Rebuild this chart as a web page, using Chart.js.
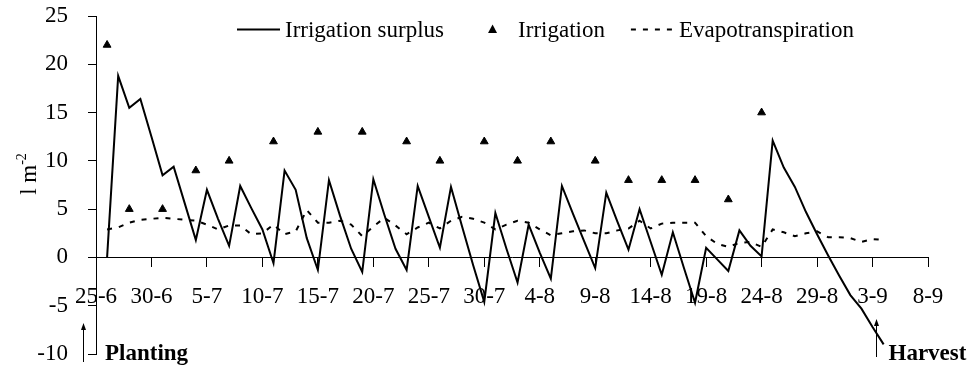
<!DOCTYPE html>
<html>
<head>
<meta charset="utf-8">
<script src="https://cdn.jsdelivr.net/npm/chart.js@4.4.1/dist/chart.umd.min.js"></script>
<style>
  html, body { margin: 0; padding: 0; background: #fff; }
  #wrap { width: 972px; height: 371px; }
</style>
</head>
<body>
<div id="wrap"><canvas id="chart"></canvas></div>
<script>
// tick labels every 5 days, starting 25-6 (day 0)
const tickLabels = ["25-6", "30-6", "5-7", "10-7", "15-7", "20-7", "25-7", "30-7",
  "4-8", "9-8", "14-8", "19-8", "24-8", "29-8", "3-9", "8-9"];

// days after 25-6
const days = [1, 2, 3, 4, 5, 6, 7, 8, 9, 10, 11, 12, 13, 14, 15, 16, 17, 18, 19, 20,
  21, 22, 23, 24, 25, 26, 27, 28, 29, 30, 31, 32, 33, 34, 35, 36, 37, 38, 39, 40,
  41, 42, 43, 44, 45, 46, 47, 48, 49, 50, 51, 52, 53, 54, 55, 56, 57, 58, 59, 60,
  61, 62, 63, 64, 65, 66, 67, 68, 69, 70, 71];

const surplus = [0, 18.8, 15.5, 16.4, 12.5, 8.5, 9.4, 5.6, 1.8, 7.0,
  4.0, 1.2, 7.4, 5.1, 2.9, -0.6, 9.0, 7.0, 2.0, -1.3,
  8.0, 4.3, 0.9, -1.5, 8.1, 4.4, 0.9, -1.3, 7.4, 4.2,
  1.0, 7.3, 3.2, -0.8, -4.6, 4.6, 0.9, -2.6, 3.4, 0.5,
  -2.2, 7.4, 4.5, 1.7, -1.1, 6.7, 3.7, 0.8, 5.0, 1.6,
  -1.8, 2.6, -1.1, -4.7, 1.0, -0.2, -1.4, 2.8, 1.2, 0.1,
  12.1, 9.3, 7.3, 4.7, 2.4, 0.2, -1.9, -3.9, -5.3, -7.2, -9.0];

const evapotranspiration = [2.9, 3.1, 3.6, 3.9, 4.0, 4.1, 4.0, 3.9, 3.8, 3.4,
  2.9, 3.3, 3.3, 2.4, 2.5, 3.4, 2.4, 2.7, 4.9, 3.6,
  3.6, 3.8, 3.4, 2.2, 3.2, 4.1, 3.3, 2.4, 3.1, 3.6,
  3.0, 3.8, 4.2, 4.0, 3.6, 2.9, 3.4, 3.8, 3.6, 2.9,
  2.3, 2.5, 2.7, 2.8, 2.5, 2.5, 2.8, 3.0, 3.8, 3.0,
  3.5, 3.6, 3.6, 3.6, 2.2, 1.4, 1.1, 1.5, 1.6, 1.1,
  2.9, 2.6, 2.2, 2.5, 2.7, 2.1, 2.1, 2.0, 1.6, 1.9, 1.8];

const irrigationDays = [1, 3, 6, 9, 12, 16, 20, 24, 28, 31, 35, 38, 41, 45, 48, 51, 54, 57, 60];
const irrigation = [22, 5, 5, 9, 10, 12, 13, 13, 12, 10, 12, 10, 12, 10, 8, 8, 8, 6, 15];

const FONT = "'Liberation Serif', 'Times New Roman', serif";

// legend drawn inside the plot, Excel style
const legendPlugin = {
  id: "excelLegend",
  afterDraw(chart) {
    const ctx = chart.ctx;
    const midY = 29.5;
    let x = 237;
    ctx.save();
    ctx.font = `23px ${FONT}`;
    ctx.fillStyle = "#000";
    ctx.strokeStyle = "#000";
    ctx.textBaseline = "alphabetic";
    chart.data.datasets.forEach((ds) => {
      if (ds.showLine === false) {
        const cx = x + 22.5;
        ctx.beginPath();
        ctx.moveTo(cx, midY - 5);
        ctx.lineTo(cx + 4.5, midY + 3.5);
        ctx.lineTo(cx - 4.5, midY + 3.5);
        ctx.closePath();
        ctx.fill();
      } else {
        ctx.lineWidth = ds.borderWidth;
        ctx.setLineDash(ds.borderDash || []);
        ctx.beginPath();
        ctx.moveTo(x, midY);
        ctx.lineTo(x + 43, midY);
        ctx.stroke();
        ctx.setLineDash([]);
      }
      ctx.fillText(ds.label, x + 48, 37);
      x += 48 + ctx.measureText(ds.label).width + 26;
    });
    ctx.restore();
  }
};

function arrowUp(ctx, x, top, bottom) {
  ctx.beginPath();
  ctx.moveTo(x, bottom);
  ctx.lineTo(x, top + 5);
  ctx.stroke();
  ctx.beginPath();
  ctx.moveTo(x, top);
  ctx.lineTo(x + 2.5, top + 7);
  ctx.lineTo(x - 2.5, top + 7);
  ctx.closePath();
  ctx.fill();
}

// axis title with superscript, planting / harvest notes
const notesPlugin = {
  id: "notes",
  afterDraw(chart) {
    const ctx = chart.ctx;
    const xs = chart.scales.x;
    ctx.save();
    ctx.fillStyle = "#000";
    ctx.strokeStyle = "#000";
    ctx.lineWidth = 1;

    // y title "l m-2"
    ctx.save();
    ctx.translate(36, 174);
    ctx.rotate(-Math.PI / 2);
    ctx.font = `23px ${FONT}`;
    const main = "l m";
    const mainW = ctx.measureText(main).width;
    ctx.font = `14px ${FONT}`;
    const supW = ctx.measureText("-2").width;
    const start = -(mainW + supW) / 2;
    ctx.font = `23px ${FONT}`;
    ctx.fillText(main, start, 0);
    ctx.font = `14px ${FONT}`;
    ctx.fillText("-2", start + mainW, -10);
    ctx.restore();

    ctx.font = `bold 23px ${FONT}`;
    const left = chart.chartArea.left;
    arrowUp(ctx, left - 12.5, 323, 362);
    ctx.fillText("Planting", left + 9, 360);

    const hx = Math.round(xs.getPixelForValue(70.3)) + 0.5;
    arrowUp(ctx, hx, 319, 357);
    ctx.fillText("Harvest", hx + 12, 360);
    ctx.restore();
  }
};

new Chart(document.getElementById("chart"), {
  type: "line",
  data: {
    datasets: [{
      label: "Irrigation surplus",
      data: days.map((d, i) => ({ x: d, y: surplus[i] })),
      borderColor: "#000",
      borderWidth: 2,
      pointRadius: 0,
      tension: 0
    }, {
      label: "Irrigation",
      data: irrigationDays.map((d, i) => ({ x: d, y: irrigation[i] })),
      showLine: false,
      pointStyle: "triangle",
      pointRadius: 4.5,
      pointBorderWidth: 1,
      pointBackgroundColor: "#000",
      pointBorderColor: "#000"
    }, {
      label: "Evapotranspiration",
      data: days.map((d, i) => ({ x: d, y: evapotranspiration[i] })),
      borderColor: "#000",
      borderWidth: 2,
      borderDash: [5, 7],
      pointRadius: 0,
      tension: 0
    }]
  },
  options: {
    responsive: true,
    maintainAspectRatio: false,
    animation: false,
    layout: {
      padding: { top: 16, right: 44, bottom: 17, left: 0 }
    },
    plugins: {
      legend: { display: false },
      tooltip: { enabled: false }
    },
    scales: {
      x: {
        type: "linear",
        min: 0,
        max: 75,
        position: { y: 0 },
        afterFit: (scale) => { scale.height = 0; },
        grid: {
          drawOnChartArea: false,
          tickLength: 9,
          color: "#000"
        },
        border: { color: "#000", width: 1 },
        ticks: {
          stepSize: 5,
          autoSkip: false,
          maxRotation: 0,
          padding: 17,
          color: "#000",
          font: { family: FONT, size: 23 },
          callback: (value, index) => tickLabels[index]
        }
      },
      y: {
        min: -10,
        max: 25,
        afterFit: (scale) => {
          scale.width = 96;
          scale.paddingTop = 0;
          scale.paddingBottom = 0;
        },
        grid: {
          drawOnChartArea: false,
          tickLength: 8,
          color: "#000"
        },
        border: { color: "#000", width: 1 },
        ticks: {
          stepSize: 5,
          padding: 20,
          color: "#000",
          font: { family: FONT, size: 23 }
        }
      }
    }
  },
  plugins: [legendPlugin, notesPlugin]
});
</script>
</body>
</html>
